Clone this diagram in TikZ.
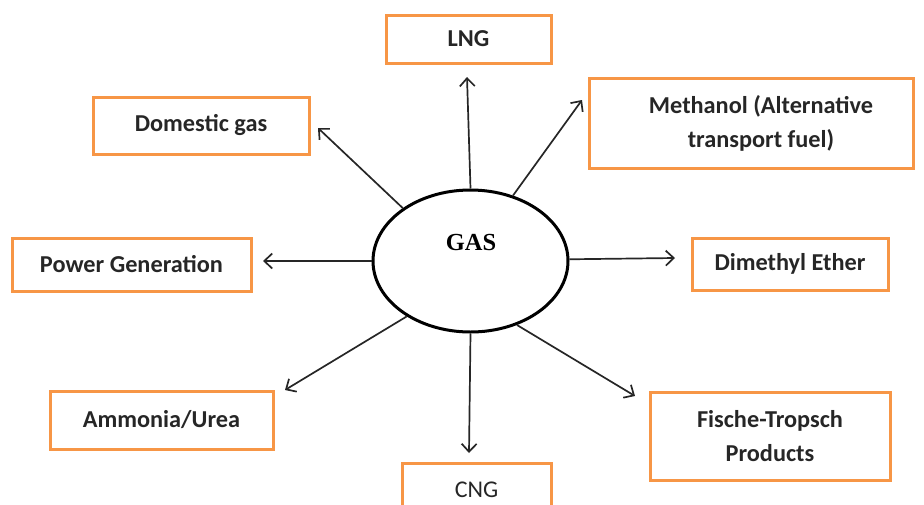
\documentclass[tikz,border=0pt]{standalone}
\usepackage{fontspec}
\setmainfont{Carlito}
\newfontfamily\timesfont{Liberation Serif}
\usetikzlibrary{arrows.meta,shapes.geometric}
\definecolor{boxorange}{RGB}{247,150,70}
\begin{document}
\begin{tikzpicture}[x=1pt,y=-1pt,
  outbox/.style={draw=boxorange,line width=3pt,inner sep=0pt,align=center,
    font=\fontsize{24.3}{34}\selectfont\bfseries,text=black!85},
  conn/.style={line width=1.7pt,draw=black!85,-{Straight Barb[length=8pt,width=15pt,line width=1.7pt]}}]
\useasboundingbox (0,0) rectangle (924,504);
\clip (0,0) rectangle (924,504);
% central ellipse
\node[ellipse,draw,line width=3pt,minimum width=195pt,minimum height=142pt,inner sep=0pt] (gas) at (470.5,261) {};
\node[font=\timesfont\fontsize{24.5}{28}\selectfont\bfseries] (gaslabel) at (471,243) {GAS};
% boxes
\node[outbox,minimum width=165pt,minimum height=48pt] (lng) at (468.5,39) {LNG};
\node[outbox,minimum width=216pt,minimum height=57pt] (dom) at (201,125.5) {Domestic gas};
\node[outbox,minimum width=324pt,minimum height=90pt] (meth) at (751,123) {\hspace*{20pt}Methanol (Alternative\\\hspace*{20pt}transport fuel)};
\node[outbox,minimum width=239pt,minimum height=53pt] (pow) at (131.5,264.5) {Power Generation};
\node[outbox,minimum width=196pt,minimum height=52pt] (dme) at (790,264) {Dimethyl Ether};
\node[outbox,minimum width=223pt,minimum height=58pt] (amm) at (161.5,420) {Ammonia/Urea};
\node[outbox,minimum width=240pt,minimum height=88pt] (ft) at (770,436) {Fische-Tropsch\\Products};
\node[outbox,minimum width=149pt,minimum height=60pt] (cng) at (476.5,493) {};
\node[font=\fontsize{24}{28}\selectfont,text=black!85] (cngtext) at (476.5,490) {CNG};
% arrow tips
\coordinate (tlng) at (467,77);
\coordinate (tmeth) at (582,100);
\coordinate (tdom) at (318,128);
\coordinate (tpow) at (263,261);
\coordinate (tdme) at (675,258);
\coordinate (tamm) at (285,390);
\coordinate (tcng) at (469,453);
\coordinate (tft) at (635,396);
% connectors
\draw[conn] (gas.90) -- (tlng);
\draw[conn] (gas.57) -- (tmeth);
\draw[conn] (gas.142) -- (tdom);
\draw[conn] (gas.180) -- (tpow);
\draw[conn] (gas.1) -- (tdme);
\draw[conn] (gas.221) -- (tamm);
\draw[conn] (gas.270) -- (tcng);
\draw[conn] (gas.306) -- (tft);
\end{tikzpicture}
\end{document}
